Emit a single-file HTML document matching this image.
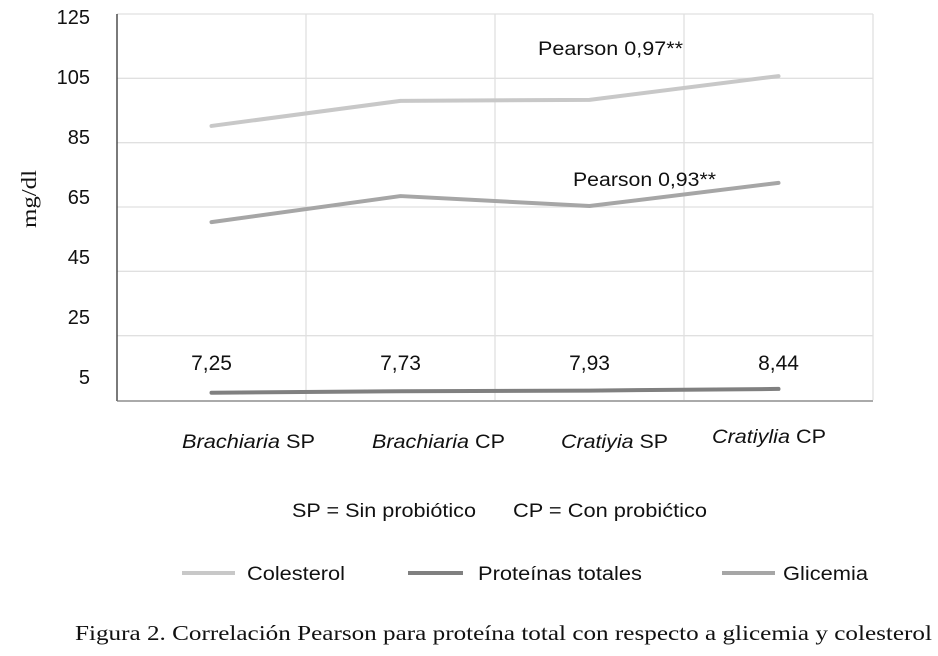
<!DOCTYPE html>
<html><head><meta charset="utf-8"><style>
html,body{margin:0;padding:0;background:#fff;}
svg{display:block;font-family:"Liberation Sans",sans-serif;}
</style></head><body>
<svg id="chart" width="938" height="656" viewBox="0 0 938 656">
<g id="grid"></g>
<g id="series"></g>
<g id="labels"></g>
</svg>
<script>
const categories = ["Brachiaria|SP", "Brachiaria|CP", "Cratiyia|SP", "Cratiylia|CP"];
const colesterol = [90.2, 98.0, 98.3, 105.7];
const glicemia = [60.3, 68.4, 65.3, 72.5];
const proteinas = [7.25, 7.73, 7.93, 8.44];
const proteinLabels = ["7,25", "7,73", "7,93", "8,44"];
const yTicks = ["125", "105", "85", "65", "45", "25", "5"];

const NS = "http://www.w3.org/2000/svg";
const pL = 117, pR = 873, pT = 14, pB = 400;
const yMin = 5, yMax = 125;
const band = (pR - pL) / categories.length;
function xPos(i) { return pL + band * (i + 0.5); }
function yPos(v) { return pB - (v - yMin) / (yMax - yMin) * (pB - pT); }
function mk(tag, attrs, parent) {
  const e = document.createElementNS(NS, tag);
  for (const k in attrs) e.setAttribute(k, attrs[k]);
  parent.appendChild(e);
  return e;
}
const grid = document.getElementById('grid');
const series = document.getElementById('series');
const labels = document.getElementById('labels');

for (let i = 0; i < 6; i++) {
  const y = pT + i * (pB - pT) / 6;
  const g = mk('line', {x1: pL, x2: pR, y1: y, y2: y, stroke: '#e0e0e0', 'stroke-width': 1.3}, grid);
  
  
}
for (let i = 1; i <= categories.length; i++) {
  const x = pL + band * i;
  const g = mk('line', {x1: x, x2: x, y1: pT, y2: pB, stroke: '#e0e0e0', 'stroke-width': 1.3}, grid);
  
  
}
const ya = mk('line', {x1: pL, x2: pL, y1: pT, y2: pB + 1, stroke: '#333', 'stroke-width': 1.3}, grid);


const xa = mk('line', {x1: pL, x2: pR, y1: pB + 1, y2: pB + 1, stroke: '#777', 'stroke-width': 1.3}, grid);



yTicks.forEach((t, i) => {
  const e = mk('text', {x: 90, y: 24 + i * 60, 'text-anchor': 'end', 'font-size': 20, fill: '#111'}, labels);
  e.textContent = t;
  
  
});

function drawLine(vals, color, name) {
  const pts = vals.map((v, i) => xPos(i) + ',' + yPos(v)).join(' ');
  const p = mk('polyline', {points: pts, fill: 'none', stroke: color, 'stroke-width': 4, 'stroke-linecap': 'round', 'stroke-linejoin': 'round'}, series);
  
  
}
drawLine(colesterol, '#c8c8c8', 'colesterol-line');
drawLine(glicemia, '#a6a6a6', 'glicemia-line');
drawLine(proteinas, '#808080', 'proteinas-line');

proteinLabels.forEach((t, i) => {
  const e = mk('text', {x: xPos(i), y: 370, 'text-anchor': 'middle', 'font-size': 21, fill: '#111'}, labels);
  e.textContent = t;
  
  
});

const catPos = [[182, 448, 133], [372, 448, 133], [561, 448, 107], [712, 443, 114]];
categories.forEach((c, i) => {
  const parts = c.split('|');
  const e = mk('text', {x: catPos[i][0], y: catPos[i][1], 'font-size': 19, fill: '#111', textLength: catPos[i][2], lengthAdjust: 'spacingAndGlyphs'}, labels);
  
  
  const s = mk('tspan', {'font-style': 'italic'}, e);
  s.textContent = parts[0];
  const s2 = mk('tspan', {}, e);
  s2.textContent = ' ' + parts[1];
});

function txt(x, y, t, size, name, len, extra) {
  const a = Object.assign({x: x, y: y, 'font-size': size, fill: '#111'}, extra || {});
  if (len) { a.textLength = len; a.lengthAdjust = 'spacingAndGlyphs'; }
  const e = mk('text', a, labels);
  e.textContent = t;
  
  
  return e;
}
txt(538, 55, 'Pearson 0,97**', 19, 'pearson-colesterol-annotation', 145);
txt(573, 186, 'Pearson 0,93**', 19, 'pearson-glicemia-annotation', 143);
txt(292, 517, 'SP = Sin probiótico', 19, 'note-sp', 184);
txt(513, 517, 'CP = Con probićtico', 19, 'note-cp', 194);

const leg = [[182, 235, '#c8c8c8', 247, 'Colesterol', 98, 'legend-colesterol'],
             [408, 463, '#808080', 478, 'Proteínas totales', 164, 'legend-proteinas'],
             [722, 775, '#a6a6a6', 783, 'Glicemia', 85, 'legend-glicemia']];
leg.forEach(l => {
  const ln = mk('line', {x1: l[0], x2: l[1], y1: 573, y2: 573, stroke: l[2], 'stroke-width': 4}, labels);
  
  
  txt(l[3], 580, l[4], 19, l[6], l[5]);
});

txt(0, 0, 'mg/dl', 21, 'y-axis-title', 58, {transform: 'translate(36,228) rotate(-90)', 'font-family': '"Liberation Serif", serif'});
txt(75, 640, 'Figura 2. Correlación Pearson para proteína total  con  respecto  a glicemia y colesterol', 21, 'figure-caption', 857, {'font-family': '"Liberation Serif", serif'});
</script>
</body></html>
